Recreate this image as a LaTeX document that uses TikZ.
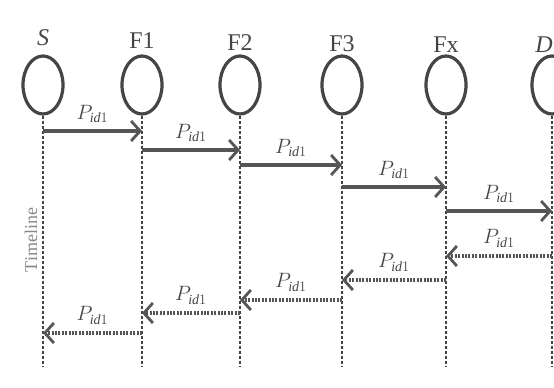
\documentclass[tikz,border=0pt]{standalone}
\usepackage{fontspec}
\setmainfont{Liberation Serif}
\usetikzlibrary{arrows.meta,shapes.geometric}
\definecolor{ink}{HTML}{454545}
\definecolor{inkl}{HTML}{555555}
\tikzset{
  actor/.style={draw=ink,line width=3.2pt,ellipse,minimum width=40pt,minimum height=58pt,inner sep=0pt},
  alabel/.style={text=ink,font=\fontsize{24}{24}\selectfont,inner sep=0pt},
  life/.style={draw=ink,line width=1.8pt,dash pattern=on 3pt off 2pt},
  fwd/.style={draw=inkl,line width=3.4pt,-{Straight Barb[length=9pt,width=20pt,line width=2.8pt]}},
  bwd/.style={draw=inkl,line width=3.6pt,dash pattern=on 2pt off 1.4pt,-{Straight Barb[length=9pt,width=20pt,line width=2.8pt]}},
  plab/.style={text=ink,font=\fontsize{20}{20}\selectfont,inner sep=0pt,anchor=south}
}
\begin{document}
\begin{tikzpicture}[x=1pt,y=-1pt]
\useasboundingbox (0,0) rectangle (554,388);
\clip (0,0) rectangle (554,388);
\fill[white] (0,0) rectangle (554,388);
% actors
\foreach \n/\x in {S/43,F1/142,F2/240,F3/342,Fx/446,D/552}{
  \node[actor] (\n) at (\x,85) {};
  \coordinate (\n e) at (\x,366);
  \draw[life] (\n.south) -- (\n e);
}
\node[alabel] (lS) at (43,38) {\textit{S}};
\node[alabel] (lF1) at (142,41) {F1};
\node[alabel] (lF2) at (240,43) {F2};
\node[alabel] (lF3) at (342,44) {F3};
\node[alabel] (lFx) at (446,45) {Fx};
\node[alabel,anchor=east] (lD) at (553,45) {\textit{D}};
% timeline
\node[text=inkl!70,rotate=90,font=\fontsize{18}{18}\selectfont] (tl) at (31,240) {Timeline};
% forward messages
\foreach \a/\b/\y [count=\i] in {S/F1/131,F1/F2/150,F2/F3/165,F3/Fx/187,Fx/D/211}{
  \coordinate (fa\i) at (\a |- 0,\y);
  \coordinate (fb\i) at (\b |- 0,\y);
  \draw[fwd] (fa\i) -- (fb\i) node[plab,midway,above=7pt] (fl\i) {$P_{\mathit{id}1}$};
}
% backward messages
\foreach \a/\b/\y [count=\i] in {D/Fx/256,Fx/F3/280,F3/F2/300,F2/F1/313,F1/S/333}{
  \coordinate (ba\i) at (\a |- 0,\y);
  \coordinate (bb\i) at (\b |- 0,\y);
  \draw[bwd] (ba\i) -- (bb\i) node[plab,midway,above=7pt] (bl\i) {$P_{\mathit{id}1}$};
}
\end{tikzpicture}
\end{document}
